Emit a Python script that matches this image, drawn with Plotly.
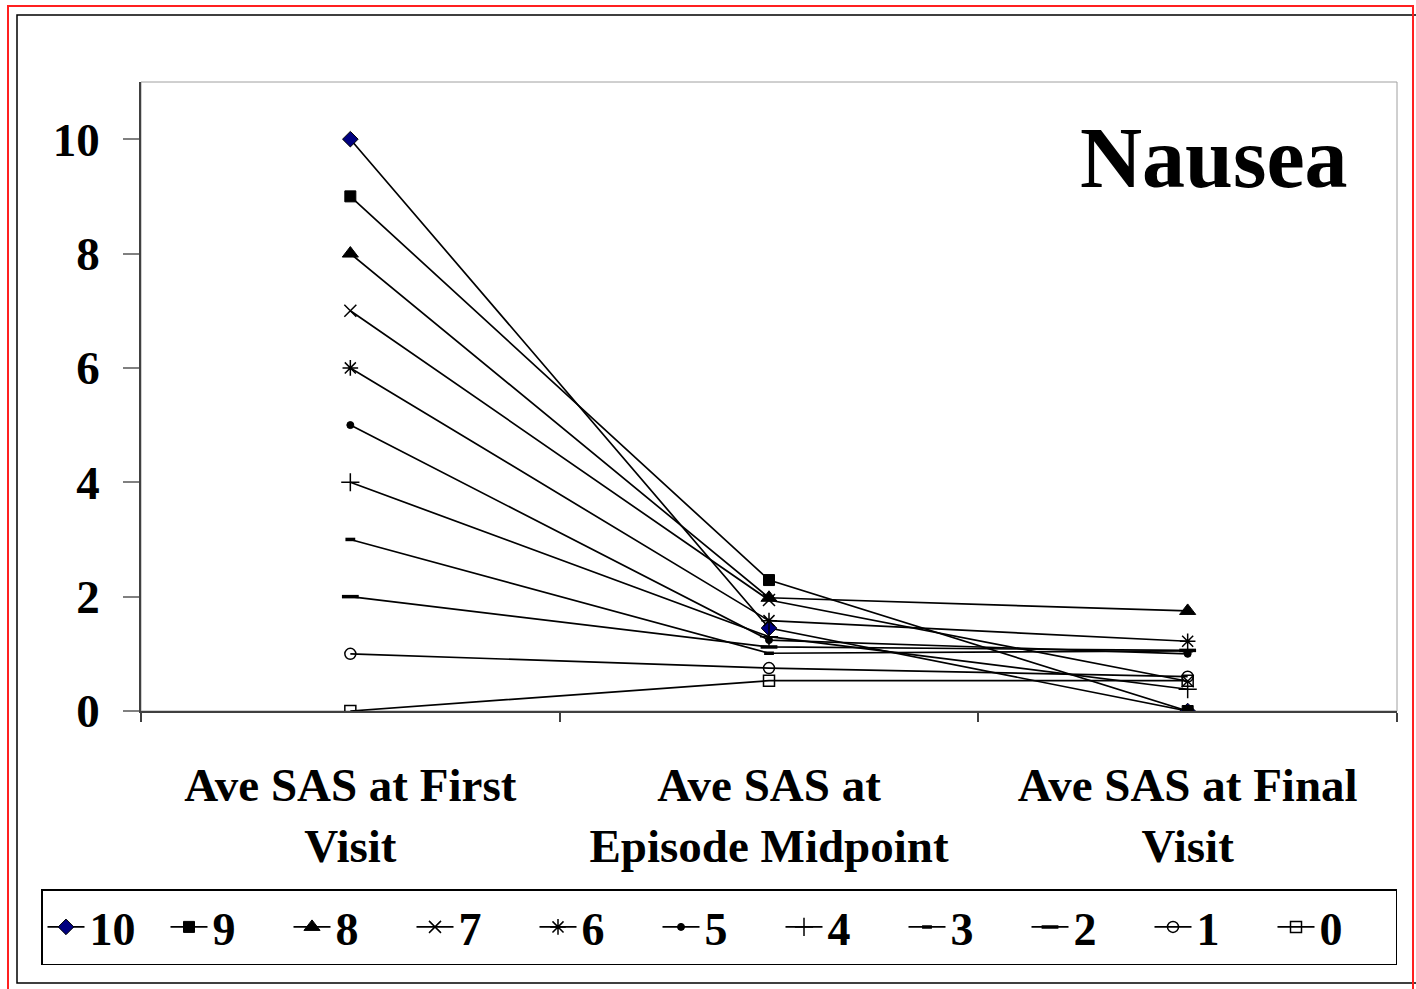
import plotly.graph_objects as go

# Visit stages along the x axis
stages = ["Ave SAS at First<br>Visit", "Ave SAS at<br>Episode Midpoint", "Ave SAS at Final<br>Visit"]

# Average SAS scores per starting-score group (0-10)
groups = ["10", "9", "8", "7", "6", "5", "4", "3", "2", "1", "0"]
sas_10 = [10, 1.45, 0.0]
sas_9 = [9, 2.29, 0.0]
sas_8 = [8, 1.98, 1.75]
sas_7 = [7, 1.94, 0.52]
sas_6 = [6, 1.58, 1.22]
sas_5 = [5, 1.24, 1.0]
sas_4 = [4, 1.30, 0.38]
sas_3 = [3, 1.01, 1.05]
sas_2 = [2, 1.12, 1.06]
sas_1 = [1, 0.75, 0.60]
sas_0 = [0, 0.53, 0.53]
series = [sas_10, sas_9, sas_8, sas_7, sas_6, sas_5, sas_4, sas_3, sas_2, sas_1, sas_0]

y_ticks = [0, 2, 4, 6, 8, 10]

# Marker styling per group
markers = [
    dict(symbol="diamond", size=12, color="#000080", line=dict(color="black", width=1)),
    dict(symbol="square", size=11, color="black", line=dict(color="black", width=1)),
    dict(symbol="triangle-up", size=14, color="black", line=dict(color="black", width=1)),
    dict(symbol="x-thin-open", size=12, color="black", line=dict(color="black", width=1.5)),
    dict(symbol="asterisk-open", size=13, color="black", line=dict(color="black", width=1.5)),
    dict(symbol="circle", size=7, color="black", line=dict(color="black", width=1)),
    dict(symbol="cross-thin-open", size=13, color="black", line=dict(color="black", width=1.5)),
    dict(symbol="line-ew-open", size=7, color="black", line=dict(color="black", width=3.5)),
    dict(symbol="line-ew-open", size=12, color="black", line=dict(color="black", width=3.5)),
    dict(symbol="circle-open", size=11, color="black", line=dict(color="black", width=1.5)),
    dict(symbol="square-open", size=11, color="black", line=dict(color="black", width=1.5)),
]

W, H = 1416, 989
L, R, T, B = 141, 1397, 82, 711  # plot area in pixels


def px_x(p):
    return (p - L) / (R - L)


def px_y(p):
    return (B - p) / (B - T)


fig = go.Figure()
for name, vals, mk in zip(groups, series, markers):
    fig.add_trace(go.Scatter(
        x=stages, y=vals, name=name, mode="lines+markers",
        line=dict(color="black", width=1.7),
        marker=mk,
    ))

font_family = "Liberation Serif, Times New Roman, serif"

fig.update_layout(
    width=W, height=H,
    margin=dict(l=L, r=W - R, t=T, b=H - B, autoexpand=False),
    paper_bgcolor="white", plot_bgcolor="white",
    font=dict(family=font_family, color="black"),
    showlegend=True,
    legend=dict(
        orientation="h",
        x=px_x(41), y=px_y(889), xanchor="left", yanchor="top",
        bordercolor="black", borderwidth=1.5, bgcolor="white",
        font=dict(size=46, family=font_family, color="black", weight="bold"),
        itemwidth=37,
        entrywidth=71, entrywidthmode="pixels",
        itemsizing="trace", tracegroupgap=0,
    ),
    xaxis=dict(
        type="category",
        range=[-0.5, 2.5],
        showgrid=False, zeroline=False,
        showline=True, linecolor="#404040", linewidth=1.5,
        ticks="outside", ticklen=9, tickcolor="#404040", tickwidth=1.5,
        tickson="boundaries",
        ticklabelstandoff=32,
        tickfont=dict(size=47, family=font_family, color="black", weight="bold"),
    ),
    yaxis=dict(
        range=[0, 11],
        tickvals=y_ticks,
        showgrid=False, zeroline=False,
        showline=True, linecolor="#404040", linewidth=1.5,
        ticks="outside", ticklen=16, tickcolor="#808080", tickwidth=1.5,
        ticklabelstandoff=14,
        tickfont=dict(size=47, family=font_family, color="black", weight="bold"),
    ),
    annotations=[dict(
        text="<b>Nausea</b>", x=px_x(1214), y=px_y(158),
        xref="paper", yref="paper", xanchor="center", yanchor="middle",
        showarrow=False,
        font=dict(size=86, family=font_family, color="black"),
    )],
    shapes=[
        # light frame around the plot area
        dict(type="rect", xref="paper", yref="paper", x0=0, x1=1, y0=0, y1=1,
             line=dict(color="#a0a0a0", width=1), layer="below"),
        # chart frame
        dict(type="rect", xref="paper", yref="paper",
             x0=px_x(17), x1=px_x(1440), y0=px_y(983), y1=px_y(15),
             line=dict(color="black", width=1.5)),
        # outer red border
        dict(type="rect", xref="paper", yref="paper",
             x0=px_x(8), x1=px_x(1413), y0=px_y(1010), y1=px_y(6),
             line=dict(color="#ff2020", width=2)),
    ],
)

fig.write_html("out.html")
